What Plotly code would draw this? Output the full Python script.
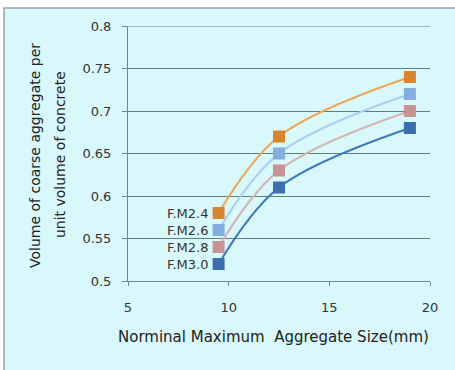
import plotly.graph_objects as go

sizes = [9.5, 12.5, 19]
series_names = ["F.M2.4", "F.M2.6", "F.M2.8", "F.M3.0"]
fm24 = [0.58, 0.67, 0.74]
fm26 = [0.56, 0.65, 0.72]
fm28 = [0.54, 0.63, 0.70]
fm30 = [0.52, 0.61, 0.68]
series_values = [fm24, fm26, fm28, fm30]
line_colors = ["#eda75a", "#a9d0f0", "#d3b5b5", "#3f79b8"]
marker_colors = ["#d8852f", "#83aee0", "#c79393", "#3a6eaf"]
x_ticks = [5, 10, 15, 20]
y_ticks = [0.5, 0.55, 0.6, 0.65, 0.7, 0.75, 0.8]
y_ticktext = ["0.5", "0.55", "0.6", "0.65", "0.7", "0.75", "0.8"]
x_title = "Norminal Maximum  Aggregate Size(mm)"
y_title_lines = ["Volume of coarse aggregate per", "unit volume of concrete"]

font = "DejaVu Sans"
bg = "#d9f8fb"
txt = "#333333"

fig = go.Figure()
for name, vals, lc in zip(series_names, series_values, line_colors):
    fig.add_trace(go.Scatter(
        x=sizes, y=vals, mode="lines", name=name,
        line=dict(color=lc, width=2.2, shape="spline", smoothing=1.0),
        showlegend=False, hoverinfo="skip"))
for name, vals, mc in zip(series_names, series_values, marker_colors):
    fig.add_trace(go.Scatter(
        x=sizes, y=vals, mode="markers", name=name,
        marker=dict(symbol="square", size=12, color=mc),
        showlegend=False))
    fig.add_annotation(x=sizes[0], y=vals[0], text=name, showarrow=False,
                       xanchor="right", yanchor="middle", xshift=-9,
                       font=dict(family=font, size=13, color=txt))

fig.add_shape(type="rect", xref="paper", yref="paper",
              x0=-0.4106, x1=1.10, y0=-0.36, y1=1.0706,
              line=dict(color="#a0a0a0", width=1.5), fillcolor=bg, layer="below")

# gridline at the top of the range (hidden at the plot edge otherwise)
fig.add_shape(type="line", xref="paper", yref="y", x0=0, x1=1,
              y0=y_ticks[-1], y1=y_ticks[-1], line=dict(color="#5f7f7f", width=1))

fig.add_annotation(xref="paper", yref="paper", x=0.482, y=-0.22, text=x_title,
                   showarrow=False, xanchor="center", yanchor="middle",
                   font=dict(family=font, size=15, color="#222222"))
for xp, line in zip([-0.308, -0.225], y_title_lines):
    fig.add_annotation(xref="paper", yref="paper", x=xp, y=0.494, text=line,
                       showarrow=False, textangle=-90, xanchor="center", yanchor="middle",
                       font=dict(family=font, size=14, color="#222222"))

fig.update_layout(
    width=455, height=370,
    margin=dict(l=128, r=25, t=26, b=89),
    paper_bgcolor="white", plot_bgcolor=bg,
    font=dict(family=font, size=13, color=txt),
    xaxis=dict(range=[5, 20], tickvals=x_ticks, showgrid=False, zeroline=False,
               showline=True, linecolor="#6a8a8a", linewidth=1,
               ticks="outside", ticklen=4, tickcolor="#6a8a8a",
               ticklabelstandoff=10,
               tickfont=dict(family=font, size=13, color=txt)),
    yaxis=dict(range=[0.5, 0.8], tickvals=y_ticks, ticktext=y_ticktext,
               showgrid=True, gridcolor="#5f7f7f", gridwidth=1, zeroline=False,
               showline=True, linecolor="#6a8a8a", linewidth=1,
               ticks="outside", ticklen=5, tickcolor="#6a8a8a",
               ticklabelstandoff=8,
               tickfont=dict(family=font, size=13, color=txt)),
)

fig.write_html("out.html")
